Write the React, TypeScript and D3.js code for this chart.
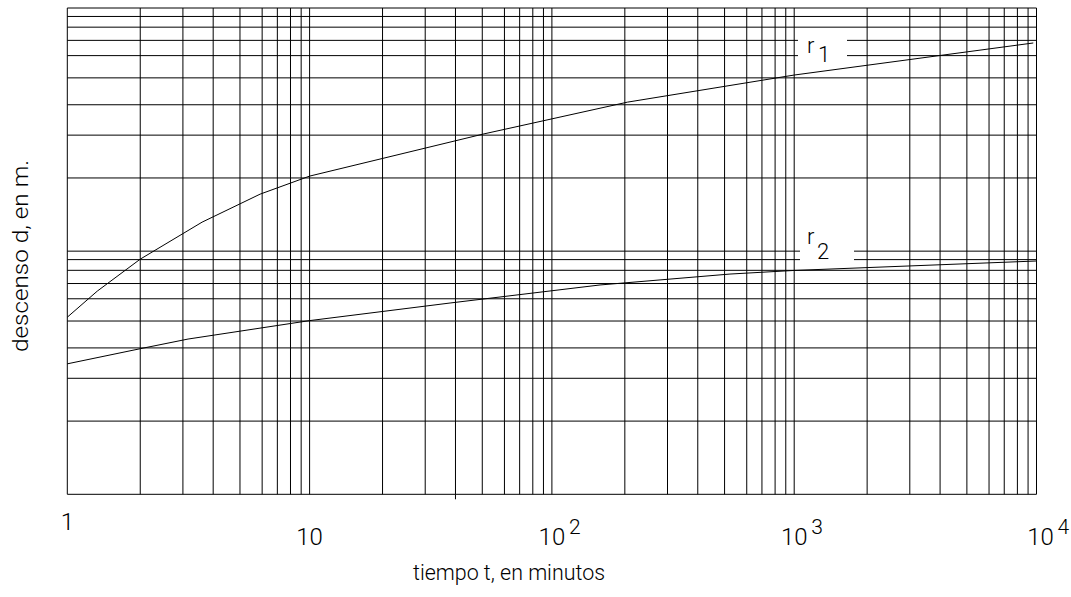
import * as d3 from "d3";

// log paper: positions of the sub-lines inside one decade, as drawn
const decadeSteps = [1, 2, 3, 4, 5.16, 6.37, 7.36, 8.34, 9.23];
const xDecades = [1, 10, 100, 1000];
const yDecades = [1, 10];

// curve r1: tiempo t (min) / descenso d
const r1T = [1, 1.33, 2, 3.6, 6.25, 10, 52, 205, 1000, 9700];
const r1D = [5.35, 6.85, 9.27, 13.16, 17.16, 20.35, 30.3, 41.0, 53.0, 71.8];
// curve r2
const r2T = [1, 2, 3.15, 10, 38, 158, 543, 1000, 10000];
const r2D = [3.44, 3.97, 4.35, 5.18, 6.12, 7.26, 8.05, 8.33, 9.11];

const xLabels = [
  { v: 1, base: "1", exp: "" },
  { v: 10, base: "10", exp: "" },
  { v: 100, base: "10", exp: "2" },
  { v: 1000, base: "10", exp: "3" },
  { v: 10000, base: "10", exp: "4" },
];

const W = 1071;
const H = 597;
const font = "Roboto, 'DejaVu Sans', sans-serif";

export default function App() {
  const x = d3.scaleLog().domain([1, 1e4]).range([67.3, 1036.5]);
  const y = d3.scaleLog().domain([1, 100]).range([494.3, 8]);

  const xGrid = xDecades.flatMap((d) => decadeSteps.map((s) => d * s)).concat([1e4]);
  const yGrid = yDecades.flatMap((d) => decadeSteps.map((s) => d * s)).concat([100]);

  const line = d3
    .line<[number, number]>()
    .x((d) => x(d[0]))
    .y((d) => y(d[1]));
  const r1 = r1T.map((t, i) => [t, r1D[i]] as [number, number]);
  const r2 = r2T.map((t, i) => [t, r2D[i]] as [number, number]);

  const [x0, x1] = x.range();
  const [y0, y1] = y.range();

  return (
    <svg
      width={W}
      height={H}
      style={{ position: "absolute", left: 0, top: 0, background: "#fff" }}
    >
      <rect width={W} height={H} fill="#fff" />
      <g stroke="#000" strokeWidth={1} fill="none">
        {xGrid.map((v) => (
          <line key={"x" + v} x1={x(v)} x2={x(v)} y1={y1} y2={y0} />
        ))}
        {yGrid.map((v) => (
          <line key={"y" + v} x1={x0} x2={x1} y1={y(v)} y2={y(v)} />
        ))}
        {/* stray tick under the axis */}
        <line x1={x(40)} x2={x(40)} y1={y0} y2={y0 + 5} />
      </g>
      {/* label gaps in the grid */}
      <rect x={798} y={34} width={49} height={28} fill="#fff" />
      <rect x={800} y={244} width={54} height={20} fill="#fff" />
      <g stroke="#000" strokeWidth={1} fill="none">
        <path d={line(r1) ?? ""} />
        <path d={line(r2) ?? ""} />
      </g>
      <g fontFamily={font} fontWeight={300} fill="#000">
        <text x={807} y={53} fontSize={22}>r</text>
        <text x={818} y={62} fontSize={22}>1</text>
        <text x={807} y={244} fontSize={22}>r</text>
        <text x={817} y={259} fontSize={22}>2</text>

        {xLabels.map((l) =>
          l.exp === "" && l.base === "1" ? (
            <text key={l.v} x={x(l.v)} y={530} fontSize={24} textAnchor="middle">
              {l.base}
            </text>
          ) : (
            <g key={l.v}>
              <text x={x(l.v) + (l.v === 1e4 ? 4 : 0)} y={545} fontSize={24} textAnchor="middle">
                {l.base}
              </text>
              {l.exp && (
                <text x={x(l.v) + (l.v === 1e4 ? 4 : 0) + 17} y={534} fontSize={21}>
                  {l.exp}
                </text>
              )}
            </g>
          )
        )}

        <text
          x={413}
          y={580}
          fontSize={22}
          textLength={192}
          lengthAdjust="spacingAndGlyphs"
        >
          tiempo t, en minutos
        </text>
        <text
          transform="translate(28,352) rotate(-90)"
          fontSize={22}
          textLength={192}
          lengthAdjust="spacingAndGlyphs"
        >
          descenso d, en m.
        </text>
      </g>
    </svg>
  );
}
